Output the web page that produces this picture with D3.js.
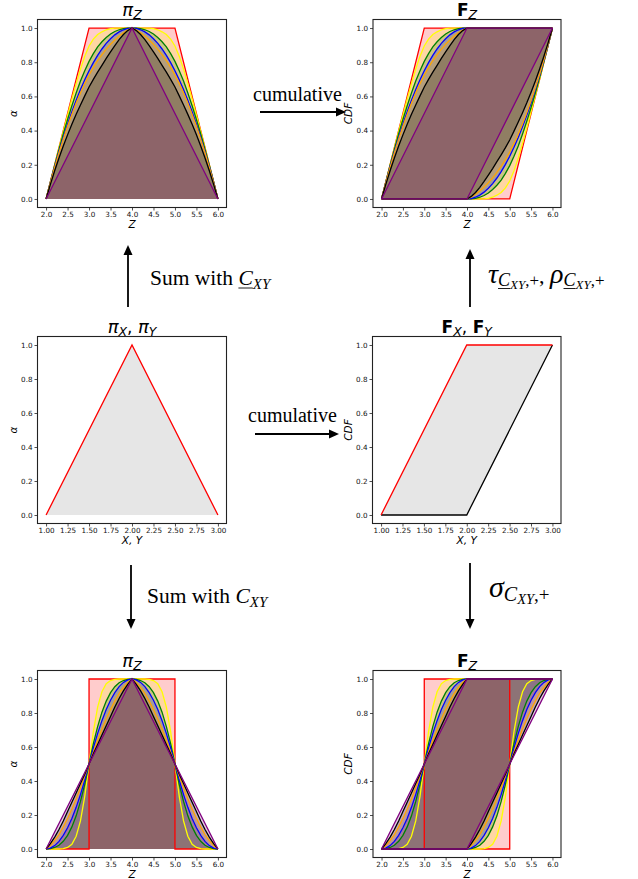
<!DOCTYPE html>
<html>
<head>
<meta charset="utf-8">
<script src="https://cdn.jsdelivr.net/npm/d3@7"></script>
<style>
  body { margin: 0; background: #fff; }
</style>
</head>
<body>
<script>
// ---- data ----
// z values of the left half of every smooth curve (right half is its mirror)
var zGrid = [2.0, 2.1, 2.2, 2.3, 2.4, 2.5, 2.6, 2.7, 2.8, 2.9, 3.0, 3.1, 3.2, 3.3, 3.4, 3.5, 3.6, 3.7, 3.8, 3.9, 4.0];

// top row: sum with lower copula (alpha on zGrid)
var topRed    = [[2, 0], [3, 1], [4, 1]];
var topYellow = [0, .1, .2, .298, .395, .49, .585, .675, .76, .835, .895, .935, .962, .978, .99, .996, .999, 1, 1, 1, 1];
var topGreen  = [0, .099, .196, .29, .38, .465, .545, .62, .69, .75, .805, .85, .89, .92, .945, .965, .98, .99, .996, .999, 1];
var topBlue   = [0, .0975, .19, .2775, .36, .4375, .51, .5775, .64, .6975, .75, .7975, .84, .8775, .91, .9375, .96, .9775, .99, .9975, 1];
var topOrange = [0, .095, .185, .27, .35, .425, .495, .56, .62, .675, .725, .77, .81, .845, .877, .905, .93, .953, .972, .988, 1];
var topBlack  = [0, .085, .165, .24, .31, .375, .437, .495, .55, .603, .655, .70, .742, .782, .822, .86, .897, .932, .962, .985, 1];
var topPurple = [[2, 0], [4, 1]];

// bottom row: sum with copula
var botRed    = [[2, 0], [3, 0], [3, 1], [4, 1]];
var botYellow = [0, 0, 0, 0, .002, .009, .028, .075, .165, .31, .5, .69, .835, .925, .972, .991, .998, 1, 1, 1, 1];
var botGreen  = [0, .002, .009, .022, .045, .08, .13, .195, .28, .38, .5, .62, .72, .805, .87, .92, .955, .978, .991, .998, 1];
var botBlue   = [0, .005, .02, .045, .08, .125, .18, .245, .32, .405, .5, .595, .68, .755, .82, .875, .92, .955, .98, .995, 1];
var botOrange = [0, .02, .05, .085, .13, .18, .235, .295, .36, .43, .5, .57, .64, .705, .765, .82, .87, .915, .95, .98, 1];
var botBlack  = [0, .032, .07, .115, .165, .22, .275, .33, .385, .44, .5, .56, .615, .67, .725, .78, .835, .885, .93, .968, 1];
var botPurple = [[2, 0], [4, 1]];

// marginals X, Y (triangular 1,2,3)
var margX     = [1, 2, 3];
var margPi    = [0, 1, 0];
var margUpper = [0, 1, 1];
var margLower = [0, 0, 1];

// ticks
var zTicks     = [2.0, 2.5, 3.0, 3.5, 4.0, 4.5, 5.0, 5.5, 6.0];
var xyTicks    = [1.00, 1.25, 1.50, 1.75, 2.00, 2.25, 2.50, 2.75, 3.00];
var alphaTicks = [0.0, 0.2, 0.4, 0.6, 0.8, 1.0];

var curveColors = ["red", "yellow", "green", "blue", "orange", "black", "purple"];

// ---- helpers ----
function onGrid(vals) { return zGrid.map(function(z, i) { return [z, vals[i]]; }); }

var topCurves = [topRed, onGrid(topYellow), onGrid(topGreen), onGrid(topBlue), onGrid(topOrange), onGrid(topBlack), topPurple];
var botCurves = [botRed, onGrid(botYellow), onGrid(botGreen), onGrid(botBlue), onGrid(botOrange), onGrid(botBlack), botPurple];

var svg = d3.select("body").append("svg")
  .attr("width", 638)
  .attr("height", 879);

var tickFont = "'DejaVu Sans', sans-serif";
var serif = "'Liberation Serif', 'Times New Roman', serif";

// lay out a run of text pieces one after the other
function richText(parent, x, y, pieces, anchor) {
  var g = parent.append("g");
  var cx = 0;
  pieces.forEach(function(p) {
    var t = g.append("text")
      .attr("x", cx)
      .attr("y", p.dy || 0)
      .attr("font-family", p.font || serif)
      .attr("font-size", p.size)
      .attr("font-style", p.italic ? "italic" : "normal")
      .attr("font-weight", p.bold ? "bold" : "normal")
      .attr("fill", "#000")
      .style("white-space", "pre")
      .text(p.t);
    var w = t.node().getComputedTextLength();
    if (p.underline) {
      g.append("line")
        .attr("x1", cx).attr("x2", cx + w)
        .attr("y1", (p.dy || 0) + p.size * 0.14).attr("y2", (p.dy || 0) + p.size * 0.14)
        .attr("stroke", "#000").attr("stroke-width", 0.9);
    }
    cx += w;
  });
  var off = anchor === "middle" ? -cx / 2 : 0;
  g.attr("transform", "translate(" + (x + off) + "," + y + ")");
  return g;
}

function panel(box, xDom, xTicks, xFmt) {
  var x = d3.scaleLinear().domain(xDom).range([box.l, box.r]);
  var y = d3.scaleLinear().domain([-0.05, 1.05]).range([box.b, box.t]);
  var g = svg.append("g");
  // fills sit under all lines, as in matplotlib
  var fills = g.append("g"), lines = g.append("g");
  return { g: g, fills: fills, lines: lines, x: x, y: y, box: box, xTicks: xTicks, xFmt: xFmt };
}

function finishPanel(p, xLab, yLab, title) {
  var box = p.box;
  // frame
  p.g.append("rect")
    .attr("x", box.l).attr("y", box.t)
    .attr("width", box.r - box.l).attr("height", box.b - box.t)
    .attr("fill", "none").attr("stroke", "#222").attr("stroke-width", 1.1);

  var gx = p.g.append("g")
    .attr("transform", "translate(0," + box.b + ")")
    .call(d3.axisBottom(p.x).tickValues(p.xTicks).tickFormat(p.xFmt).tickSize(3).tickPadding(1));
  var gy = p.g.append("g")
    .attr("transform", "translate(" + box.l + ",0)")
    .call(d3.axisLeft(p.y).tickValues(alphaTicks).tickFormat(d3.format(".1f")).tickSize(3).tickPadding(2));
  [gx, gy].forEach(function(a) {
    a.select(".domain").remove();
    a.attr("font-family", tickFont).attr("font-size", 7.2);
    a.selectAll("line").attr("stroke", "#222").attr("stroke-width", 0.8);
    a.selectAll("text").attr("fill", "#111");
  });

  // x label
  richText(p.g, (box.l + box.r) / 2, box.b + 20.5, xLab, "middle");
  // y label (rotated)
  var yl = p.g.append("g").attr("transform", "translate(" + (box.l - 21) + "," + ((box.t + box.b) / 2) + ") rotate(-90)");
  richText(yl, 0, 0, yLab, "middle");
  // title
  richText(p.g, (box.l + box.r) / 2, box.t - 3.5, title, "middle");
}

// possibility distribution panel: each curve filled down to alpha = 0
function drawPi(p, curves) {
  var area = d3.area().x(function(d) { return p.x(d[0]); }).y0(p.y(0)).y1(function(d) { return p.y(d[1]); });
  var line = d3.line().x(function(d) { return p.x(d[0]); }).y(function(d) { return p.y(d[1]); });
  curves.forEach(function(c, i) {
    var right = c.slice().reverse().map(function(d) { return [8 - d[0], d[1]]; });
    var full = c.concat(right);
    p.fills.append("path").attr("d", area(full)).attr("fill", curveColors[i]).attr("fill-opacity", 0.2);
    p.lines.append("path").attr("d", line(full)).attr("fill", "none")
      .attr("stroke", curveColors[i]).attr("stroke-width", 1.3);
  });
}

// cdf panel: upper cdf = rising branch, lower cdf = its point mirror about (4, 0.5)
function drawCdf(p, curves) {
  var line = d3.line().x(function(d) { return p.x(d[0]); }).y(function(d) { return p.y(d[1]); });
  curves.forEach(function(c, i) {
    var upper = c.concat([[6, 1]]);
    var lower = [[2, 0]].concat(c.slice().reverse().map(function(d) { return [8 - d[0], 1 - d[1]]; }));
    var poly = upper.concat(lower.slice().reverse());
    p.fills.append("path").attr("d", line(poly) + "Z").attr("fill", curveColors[i]).attr("fill-opacity", 0.2);
    p.lines.append("path").attr("d", line(upper)).attr("fill", "none")
      .attr("stroke", curveColors[i]).attr("stroke-width", 1.3);
    p.lines.append("path").attr("d", line(lower)).attr("fill", "none")
      .attr("stroke", curveColors[i]).attr("stroke-width", 1.3);
  });
}

function arrow(x1, y1, x2, y2) {
  var ang = Math.atan2(y2 - y1, x2 - x1), L = 10, Wd = 4.5;
  var bx = x2 - L * Math.cos(ang), by = y2 - L * Math.sin(ang);
  svg.append("line").attr("x1", x1).attr("y1", y1).attr("x2", bx).attr("y2", by)
    .attr("stroke", "#000").attr("stroke-width", 1.8);
  var px = -Math.sin(ang) * Wd, py = Math.cos(ang) * Wd;
  svg.append("path")
    .attr("d", "M" + x2 + "," + y2 + "L" + (bx + px) + "," + (by + py) + "L" + (bx - px) + "," + (by - py) + "Z")
    .attr("fill", "#000");
}

// ---- labels ----
var dv = "'DejaVu Sans', sans-serif";
var fmtZ = d3.format(".1f"), fmtXY = d3.format(".2f");
var labZ = [{ t: "Z", size: 10.5, italic: true, font: dv }];
var labXY = [{ t: "X, Y", size: 10.5, italic: true, font: dv }];
var labAlpha = [{ t: "α", size: 10.5, italic: true, font: dv }];
var labCdf = [{ t: "CDF", size: 10.5, italic: true, font: dv }];
var titlePiZ = [{ t: "π", size: 18, italic: true, font: dv }, { t: "Z", size: 12.5, italic: true, font: dv, dy: 3 }];
var titleFZ = [{ t: "F", size: 17, bold: true, font: dv }, { t: "Z", size: 12.5, italic: true, font: dv, dy: 3 }];
var titlePiXY = [{ t: "π", size: 18, italic: true, font: dv }, { t: "X", size: 12.5, italic: true, font: dv, dy: 3 },
                 { t: ", ", size: 17, font: dv }, { t: "π", size: 18, italic: true, font: dv },
                 { t: "Y", size: 12.5, italic: true, font: dv, dy: 3 }];
var titleFXY = [{ t: "F", size: 17, bold: true, font: dv }, { t: "X", size: 12.5, italic: true, font: dv, dy: 3 },
                { t: ", ", size: 17, font: dv }, { t: "F", size: 17, bold: true, font: dv },
                { t: "Y", size: 12.5, italic: true, font: dv, dy: 3 }];

// ---- panels ----
var p1 = panel({ l: 37.5, r: 226.5, t: 19.5, b: 207.5 }, [1.8, 6.2], zTicks, fmtZ);
drawPi(p1, topCurves);
finishPanel(p1, labZ, labAlpha, titlePiZ);

var p2 = panel({ l: 373, r: 561, t: 19.5, b: 207.5 }, [1.8, 6.2], zTicks, fmtZ);
drawCdf(p2, topCurves);
finishPanel(p2, labZ, labCdf, titleFZ);

var p3 = panel({ l: 37.5, r: 226.5, t: 336.5, b: 523.5 }, [0.9, 3.1], xyTicks, fmtXY);
var triPts = margX.map(function(v, i) { return [v, margPi[i]]; });
p3.fills.append("path")
  .attr("d", d3.area().x(function(d) { return p3.x(d[0]); }).y0(p3.y(0)).y1(function(d) { return p3.y(d[1]); })(triPts))
  .attr("fill", "gray").attr("fill-opacity", 0.2);
p3.lines.append("path")
  .attr("d", d3.line().x(function(d) { return p3.x(d[0]); }).y(function(d) { return p3.y(d[1]); })(triPts))
  .attr("fill", "none").attr("stroke", "red").attr("stroke-width", 1.3);
finishPanel(p3, labXY, labAlpha, titlePiXY);

var p4 = panel({ l: 372.5, r: 561, t: 336.5, b: 523.5 }, [0.9, 3.1], xyTicks, fmtXY);
var upPts = margX.map(function(v, i) { return [v, margUpper[i]]; });
var loPts = margX.map(function(v, i) { return [v, margLower[i]]; });
var l4 = d3.line().x(function(d) { return p4.x(d[0]); }).y(function(d) { return p4.y(d[1]); });
p4.fills.append("path").attr("d", l4(upPts.concat(loPts.slice().reverse())) + "Z")
  .attr("fill", "gray").attr("fill-opacity", 0.2);
p4.lines.append("path").attr("d", l4(loPts)).attr("fill", "none").attr("stroke", "black").attr("stroke-width", 1.3);
p4.lines.append("path").attr("d", l4(upPts)).attr("fill", "none").attr("stroke", "red").attr("stroke-width", 1.3);
finishPanel(p4, labXY, labCdf, titleFXY);

var p5 = panel({ l: 37.5, r: 226.5, t: 670.5, b: 857.5 }, [1.8, 6.2], zTicks, fmtZ);
drawPi(p5, botCurves);
finishPanel(p5, labZ, labAlpha, titlePiZ);

var p6 = panel({ l: 373, r: 561, t: 670.5, b: 857.5 }, [1.8, 6.2], zTicks, fmtZ);
drawCdf(p6, botCurves);
finishPanel(p6, labZ, labCdf, titleFZ);

// ---- arrows and operation labels ----
arrow(260, 112, 346, 112);
richText(svg, 253, 101, [{ t: "cumulative", size: 20 }]);

arrow(255, 434, 339, 434);
richText(svg, 248, 422, [{ t: "cumulative", size: 20 }]);

arrow(128, 307, 128, 245);
richText(svg, 150, 285, [{ t: "Sum with ", size: 21.5 }, { t: "C", size: 21.5, italic: true, underline: true },
                         { t: "XY", size: 15, italic: true, dy: 4 }]);

arrow(131, 565, 131, 629);
richText(svg, 147, 603, [{ t: "Sum with ", size: 21.5 }, { t: "C", size: 21.5, italic: true },
                         { t: "XY", size: 15, italic: true, dy: 4 }]);

arrow(470, 307, 470, 249);
richText(svg, 488, 283, [{ t: "τ", size: 28, italic: true }, { t: "C", size: 18, italic: true, underline: true, dy: 3 },
                         { t: "XY", size: 13, italic: true, dy: 6 }, { t: ",+", size: 17, dy: 3 },
                         { t: ", ", size: 22 }, { t: "ρ", size: 28, italic: true },
                         { t: "C", size: 18, italic: true, underline: true, dy: 3 },
                         { t: "XY", size: 13, italic: true, dy: 6 }, { t: ",+", size: 17, dy: 3 }]);

arrow(470, 563, 470, 629);
richText(svg, 489, 597, [{ t: "σ", size: 30, italic: true }, { t: "C", size: 20, italic: true, dy: 4 },
                         { t: "XY", size: 14.5, italic: true, dy: 7 }, { t: ",+", size: 19, dy: 4 }]);
</script>
</body>
</html>
